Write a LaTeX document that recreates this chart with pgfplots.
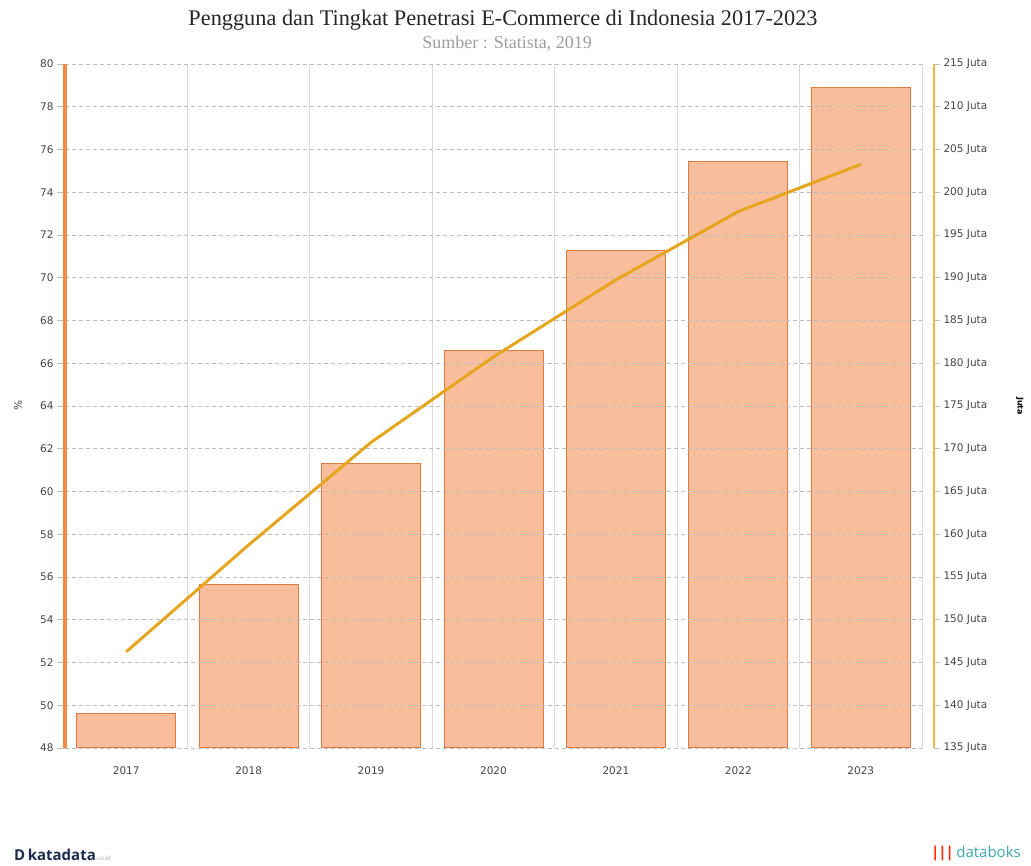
\documentclass[border=0pt]{standalone}
\usepackage{pgfplots}
\pgfplotsset{compat=1.18}
\usepackage{pgfplotstable}
\usepackage{fontspec}
\setmainfont{Liberation Serif}
\newfontfamily\tickfont{DejaVu Sans}
\newfontfamily\logofont{Open Sans}
\definecolor{barfill}{HTML}{F8BD9B}
\definecolor{bardraw}{HTML}{E07A45}
\definecolor{leftax}{HTML}{F08A45}
\definecolor{rightax}{HTML}{F2B63C}
\definecolor{linecol}{HTML}{E6A51E}
\definecolor{gridcol}{HTML}{BDBDBD}
\definecolor{vgrid}{HTML}{DADADA}
\definecolor{ticktext}{HTML}{444444}
\definecolor{navy}{HTML}{1D2A4D}
\definecolor{teal}{HTML}{3FA8B0}

\pgfplotstableread{
x juta pct
0 139.0 52.5
1 154.1 57.5
2 168.3 62.3
3 181.5 66.3
4 193.2 69.9
5 203.6 73.1
6 212.2 75.3
}\data

\begin{document}
\begin{tikzpicture}[x=1pt,y=1pt]
\useasboundingbox (0,0) rectangle (1031,866);
\pgfplotsset{base/.style={scale only axis, width=857pt, height=684pt, at={(65pt,118pt)}, anchor=south west, xmin=-0.5, xmax=6.5,
  ticklabel style={font=\tickfont\fontsize{10.5}{12}\selectfont, text=ticktext}}}
% bars (users, Juta)
\begin{axis}[base, ymin=135, ymax=215, hide axis]
\addplot[ybar, bar width=99pt, fill=barfill, draw=bardraw, line width=1pt] table[x=x,y=juta]{\data};
\end{axis}
% grid and left axis (%)
\begin{axis}[base, ymin=48, ymax=80, ytick={48,50,...,80},
  /pgf/number format/assume math mode=true,
  separate axis lines,
  axis y line*=left, axis x line*=bottom,
  x axis line style={draw=none},
  y axis line style={draw=leftax, line width=3.2pt, -},
  xtick={0,...,6}, xticklabels={2017,2018,2019,2020,2021,2022,2023},
  xtick style={draw=none},
  xticklabel style={yshift=-7pt},
  minor xtick={0.5,1.5,...,6.5}, xminorgrids, minor tick length=0pt,
  minor x grid style={vgrid, line width=0.9pt},
  ymajorgrids, major grid style={gridcol, dash pattern=on 4pt off 3pt, line width=0.9pt},
  tick align=outside, major tick length=8pt,
  ytick style={gridcol, line width=0.9pt},
  ylabel={\%},
  ylabel style={at={(axis description cs:-0.0548,0.5)}, anchor=center, font=\tickfont\fontsize{10.5}{12}\selectfont, text=ticktext},
]
\end{axis}
% line (penetration, %)
\begin{axis}[base, ymin=48, ymax=80, hide axis]
\addplot[linecol, line width=3pt] table[x=x,y=pct]{\data};
\end{axis}
% right axis (Juta)
\begin{axis}[base, at={(77pt,118pt)}, ymin=135, ymax=215, ytick={135,140,...,215},
  separate axis lines,
  axis y line*=right, axis x line=none,
  y axis line style={draw=rightax, line width=2.2pt, -},
  yticklabel={\pgfmathprintnumber[assume math mode=true]{\tick} Juta},
  tick align=outside, major tick length=6pt,
  ytick style={gridcol, line width=0.9pt},
  ylabel={\textbf{Juta}},
  ylabel style={at={(axis description cs:1.1,0.5)}, anchor=center, rotate=180, font=\tickfont\fontsize{8}{9}\selectfont, text=black},
]
\end{axis}
% titles
\node[font=\fontsize{22.3}{26}\selectfont, text=black!85] at (503,846) {Pengguna dan Tingkat Penetrasi E-Commerce di Indonesia 2017-2023};
\node[font=\fontsize{18}{21}\selectfont, text=black!38] at (507,822) {Sumber : Statista, 2019};
% footer logos
\node[anchor=west, inner sep=0pt, font=\logofont\bfseries\fontsize{15}{16}\selectfont, text=navy] at (14,11) {D\,katadata{\fontsize{6}{7}\selectfont\mdseries\color{black!40}.co.id}};
\node[anchor=east, inner sep=0pt, font=\logofont\fontsize{15}{16}\selectfont, text=teal] at (1021,12) {{\color{red!70!orange}\textbf{\textbar\kern-1pt\textbar\kern-1pt\textbar}}\,databoks};
\end{tikzpicture}
\end{document}
